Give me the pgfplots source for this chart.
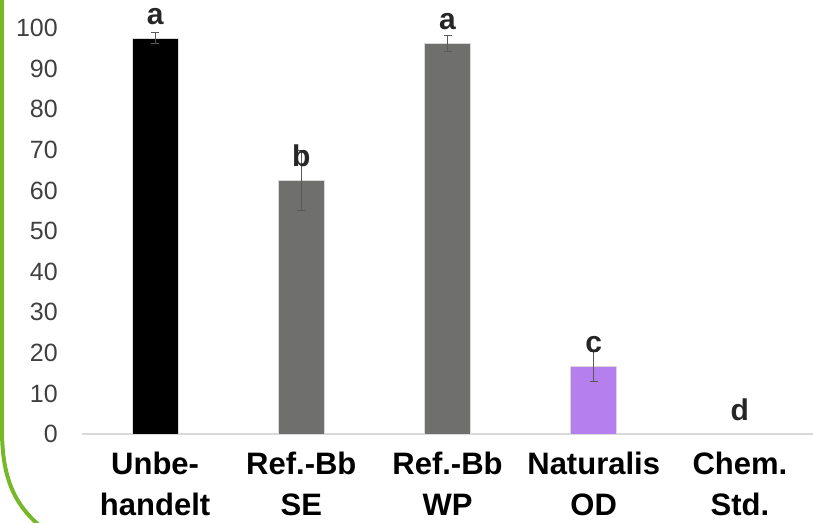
\documentclass[border=0pt]{standalone}
\usepackage{fontspec}
\setmainfont{Liberation Sans}
\usepackage{pgfplots}
\pgfplotsset{compat=1.18}

\definecolor{rahmen}{HTML}{76B82A}
\definecolor{balkgrau}{HTML}{6F706E}
\definecolor{lila}{HTML}{B580EE}
\definecolor{zahl}{HTML}{404040}
\definecolor{buchst}{HTML}{262626}
\definecolor{fehler}{HTML}{595959}

\begin{document}
\begin{tikzpicture}
\path[use as bounding box] (0,0) rectangle (813pt,522pt);
% green frame of the slide
\draw[rahmen, line width=4pt] (2pt,540pt) -- (2pt,92pt)
  .. controls (2pt,45pt) and (14pt,18pt) .. (40pt,-4pt);

\begin{axis}[
    at={(82pt,88pt)}, anchor=south west,
    scale only axis,
    width=731pt, height=406pt,
    xmin=-0.5, xmax=4.5,
    ymin=0, ymax=100,
    axis x line*=bottom,
    axis y line*=left,
    x axis line style={-, draw=white!85!black, line width=1.5pt},
    y axis line style={draw=none},
    major tick style={draw=none},
    ybar, bar width=46pt, bar shift=0pt,
    xtick={0,1,2,3,4},
    xticklabels={{Unbe-\\handelt},{Ref.-Bb\\SE},{Ref.-Bb\\WP},{Naturalis\\OD},{Chem.\\Std.}},
    xticklabel style={anchor=north, align=center, inner sep=0pt, yshift=-14pt,
        font=\fontsize{31}{41}\selectfont\bfseries},
    ytick={0,10,...,100},
    yticklabel style={anchor=east, inner sep=0pt, xshift=-24pt,
        font=\fontsize{25}{30}\selectfont, text=zahl},
    /pgf/number format/assume math mode=true,
    nodes near coords,
    point meta=explicit symbolic,
    every node near coord/.append style={anchor=base, yshift=14pt,
        font=\fontsize{30}{30}\selectfont\bfseries, text=buchst},
    error bars/y dir=both, error bars/y explicit,
    error bars/error bar style={draw=fehler, line width=0.9pt},
    error bars/error mark options={rotate=90, mark size=4pt, draw=fehler, line width=0.9pt},
]
\addplot[fill=black, draw=white!85!black, line width=0.75pt]
  coordinates {(0,97.5) +- (0,1.3) [a]};
\addplot[fill=balkgrau, draw=white!85!black, line width=0.75pt]
  coordinates {(1,62.4) +- (0,7.4) [b]};
\addplot[fill=balkgrau, draw=white!85!black, line width=0.75pt]
  coordinates {(2,96.2) +- (0,2.0) [a]};
\addplot[fill=lila, draw=white!85!black, line width=0.75pt]
  coordinates {(3,16.6) +- (0,3.7) [c]};
\addplot[fill=none, draw=none]
  coordinates {(4,0) [d]};
\end{axis}
\end{tikzpicture}
\end{document}
